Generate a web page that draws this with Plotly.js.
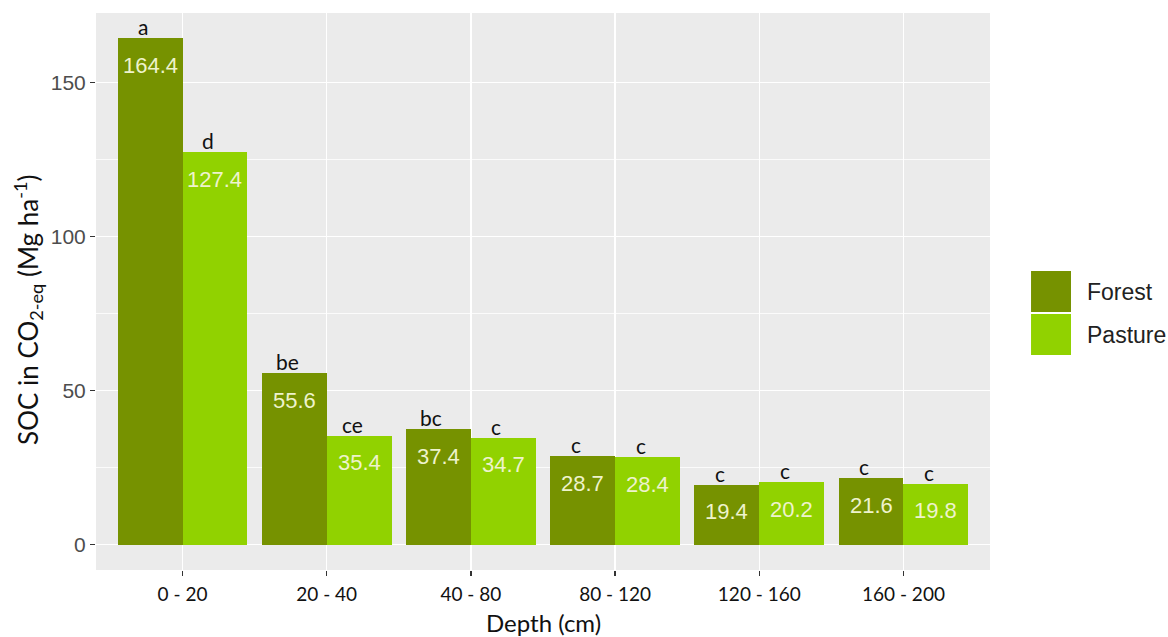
<!DOCTYPE html>
<html>
<head>
<meta charset="utf-8">
<script src="https://cdn.plot.ly/plotly-3.0.1.min.js"></script>
<style>html,body{margin:0;padding:0;background:#fff;}#chart{width:1168px;height:637px;}</style>
</head>
<body>
<div id="chart"></div>
<script>
const depths = ["0 - 20", "20 - 40", "40 - 80", "80 - 120", "120 - 160", "160 - 200"];
const forest = [164.4, 55.6, 37.4, 28.7, 19.4, 21.6];
const pasture = [127.4, 35.4, 34.7, 28.4, 20.2, 19.8];
const forestLetters = ["a", "be", "bc", "c", "c", "c"];
const pastureLetters = ["d", "ce", "c", "c", "c", "c"];
const seriesNames = ["Forest", "Pasture"];
const colors = ["#769200", "#91D200"];

const barW = 0.45;
const idx = depths.map((d, i) => i);
const xF = idx.map(i => i - barW / 2);
const xP = idx.map(i => i + barW / 2);

const traces = [
  {type: 'bar', x: xF, y: forest, width: barW, name: seriesNames[0],
   marker: {color: colors[0]}, showlegend: false, hoverinfo: 'skip'},
  {type: 'bar', x: xP, y: pasture, width: barW, name: seriesNames[1],
   marker: {color: colors[1]}, showlegend: false, hoverinfo: 'skip'}
];

const annotations = [];
const valFont = {family: 'Liberation Sans, Arial, sans-serif', size: 22, color: '#EEF3CC'};
const letFont = {family: 'Lato, Open Sans, sans-serif', size: 21, color: '#111'};
[[xF, forest, forestLetters], [xP, pasture, pastureLetters]].forEach(([xs, ys, ls]) => {
  xs.forEach((x, i) => {
    annotations.push({x: x, y: ys[i], xref: 'x', yref: 'y', text: ys[i].toFixed(1),
      showarrow: false, yanchor: 'middle', yshift: -27, font: valFont});
    annotations.push({x: x, y: ys[i], xref: 'x', yref: 'y', text: ls[i],
      showarrow: false, yanchor: 'bottom', yshift: -3, xshift: -7, font: letFont});
  });
});

// axis titles as annotations (ggplot-like placement)
annotations.push({xref: 'paper', yref: 'paper', x: -0.0761, y: 0.4668, textangle: -90,
  text: 'SOC in CO<sub>2-eq</sub> (Mg ha<sup>-1</sup>)', showarrow: false,
  xanchor: 'center', yanchor: 'middle',
  font: {family: 'Lato, Open Sans, sans-serif', size: 26, color: '#111'}});
annotations.push({xref: 'paper', yref: 'paper', x: 0.5, y: -0.0934,
  text: 'Depth (cm)', showarrow: false, xanchor: 'center', yanchor: 'middle',
  font: {family: 'Lato, Open Sans, sans-serif', size: 24, color: '#111'}});

// custom legend (large keys like ggplot)
const shapes = [];
const keyTop = [0.5368, 0.4596];
const keyBot = [0.4632, 0.386];
seriesNames.forEach((n, k) => {
  shapes.push({type: 'rect', xref: 'paper', yref: 'paper', x0: 1.0459, x1: 1.0906,
    y0: keyBot[k], y1: keyTop[k], fillcolor: colors[k], line: {width: 0}});
  annotations.push({xref: 'paper', yref: 'paper', x: 1.1063, y: (keyTop[k] + keyBot[k]) / 2,
    text: n, showarrow: false, xanchor: 'left', yanchor: 'middle',
    font: {family: 'Liberation Sans, Arial, sans-serif', size: 23, color: '#222'}});
});

const layout = {
  width: 1168, height: 637,
  margin: {l: 96, r: 178, t: 13, b: 67},
  paper_bgcolor: '#ffffff',
  plot_bgcolor: '#EBEBEB',
  showlegend: false,
  bargap: 0,
  xaxis: {
    range: [-0.6, 5.6], tickvals: idx, ticktext: depths,
    showgrid: true, gridcolor: '#ffffff', gridwidth: 1.5,
    zeroline: false, showline: false,
    ticks: 'outside', ticklen: 5, tickcolor: '#333', tickwidth: 1.5,
    ticklabelstandoff: 2,
    tickfont: {family: 'Lato, Open Sans, sans-serif', size: 19, color: '#111'}
  },
  yaxis: {
    range: [-8.22, 172.6], tickvals: [0, 50, 100, 150],
    showgrid: true, gridcolor: '#ffffff', gridwidth: 1.5,
    minor: {tickvals: [25, 75, 125], showgrid: true, gridcolor: '#ffffff', gridwidth: 0.8, ticks: ''},
    zeroline: false, showline: false,
    ticks: 'outside', ticklen: 5, tickcolor: '#333', tickwidth: 1.5,
    tickfont: {family: 'Liberation Sans, Arial, sans-serif', size: 21, color: '#4D4D4D'}
  },
  annotations: annotations,
  shapes: shapes
};

Plotly.newPlot('chart', traces, layout, {displayModeBar: false, staticPlot: true});
</script>
</body>
</html>
